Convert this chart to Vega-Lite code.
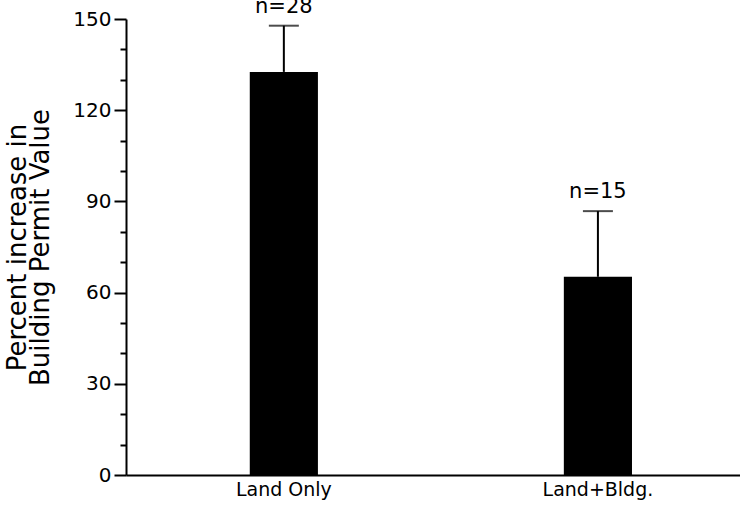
{
  "$schema": "https://vega.github.io/schema/vega-lite/v6.json",
  "autosize": "none",
  "padding": {"left": 126, "top": 19, "right": 0, "bottom": 30},
  "width": 614,
  "height": 456,
  "background": "white",
  "config": {
    "view": {"stroke": null},
    "font": "DejaVu Sans",
    "axisY": {
      "grid": false,
      "labelOverlap": false,
      "labelBound": false,
      "labelFlush": false,
      "domainColor": "black",
      "domainWidth": 2,
      "tickColor": "black",
      "tickWidth": 2,
      "labelFontSize": 20,
      "labelColor": "black",
      "labelPadding": 3,
      "titleFontSize": 26,
      "titleFontWeight": "normal",
      "titleColor": "black",
      "titleLineHeight": 23,
      "titlePadding": 19
    }
  },
  "data": {
    "values": [
      {"group": "Land Only", "value": 132.6, "upper": 147.8, "label": "n=28"},
      {"group": "Land+Bldg.", "value": 65.2, "upper": 86.8, "label": "n=15"}
    ]
  },
  "encoding": {
    "x": {
      "field": "group",
      "type": "nominal",
      "sort": null,
      "scale": {"paddingInner": 0.783, "paddingOuter": 0.369, "align": 0.534},
      "axis": {
        "title": null,
        "labelAngle": 0,
        "labelFontSize": 19,
        "labelColor": "black",
        "labelPadding": 5,
        "ticks": false,
        "domainColor": "black",
        "domainWidth": 2
      }
    }
  },
  "layer": [
    {
      "mark": {"type": "bar", "color": "black"},
      "encoding": {
        "y": {
          "field": "value",
          "type": "quantitative",
          "scale": {"domain": [0, 150], "nice": false},
          "axis": {
            "values": [0, 10, 20, 30, 40, 50, 60, 70, 80, 90, 100, 110, 120, 130, 140, 150],
            "labelExpr": "datum.value % 30 === 0 ? datum.label : ''",
            "tickSize": {"condition": {"test": "datum.value % 30 === 0", "value": 12}, "value": 6},
            "title": ["Percent increase in", "Building Permit Value"]
          }
        }
      }
    },
    {
      "mark": {"type": "rule", "color": "black", "strokeWidth": 2},
      "encoding": {
        "y": {
          "field": "value",
          "type": "quantitative",
          "axis": {
            "values": [0, 10, 20, 30, 40, 50, 60, 70, 80, 90, 100, 110, 120, 130, 140, 150],
            "labelExpr": "datum.value % 30 === 0 ? datum.label : ''",
            "tickSize": {"condition": {"test": "datum.value % 30 === 0", "value": 12}, "value": 6},
            "title": ["Percent increase in", "Building Permit Value"]
          }
        },
        "y2": {"field": "upper"}
      }
    },
    {
      "mark": {"type": "tick", "color": "black", "thickness": 2, "size": 30},
      "encoding": {
        "y": {
          "field": "upper",
          "type": "quantitative",
          "axis": {
            "values": [0, 10, 20, 30, 40, 50, 60, 70, 80, 90, 100, 110, 120, 130, 140, 150],
            "labelExpr": "datum.value % 30 === 0 ? datum.label : ''",
            "tickSize": {"condition": {"test": "datum.value % 30 === 0", "value": 12}, "value": 6},
            "title": ["Percent increase in", "Building Permit Value"]
          }
        }
      }
    },
    {
      "mark": {"type": "text", "color": "black", "fontSize": 21, "baseline": "bottom", "dy": -9},
      "encoding": {
        "y": {
          "field": "upper",
          "type": "quantitative",
          "axis": {
            "values": [0, 10, 20, 30, 40, 50, 60, 70, 80, 90, 100, 110, 120, 130, 140, 150],
            "labelExpr": "datum.value % 30 === 0 ? datum.label : ''",
            "tickSize": {"condition": {"test": "datum.value % 30 === 0", "value": 12}, "value": 6},
            "title": ["Percent increase in", "Building Permit Value"]
          }
        },
        "text": {"field": "label"}
      }
    }
  ]
}
